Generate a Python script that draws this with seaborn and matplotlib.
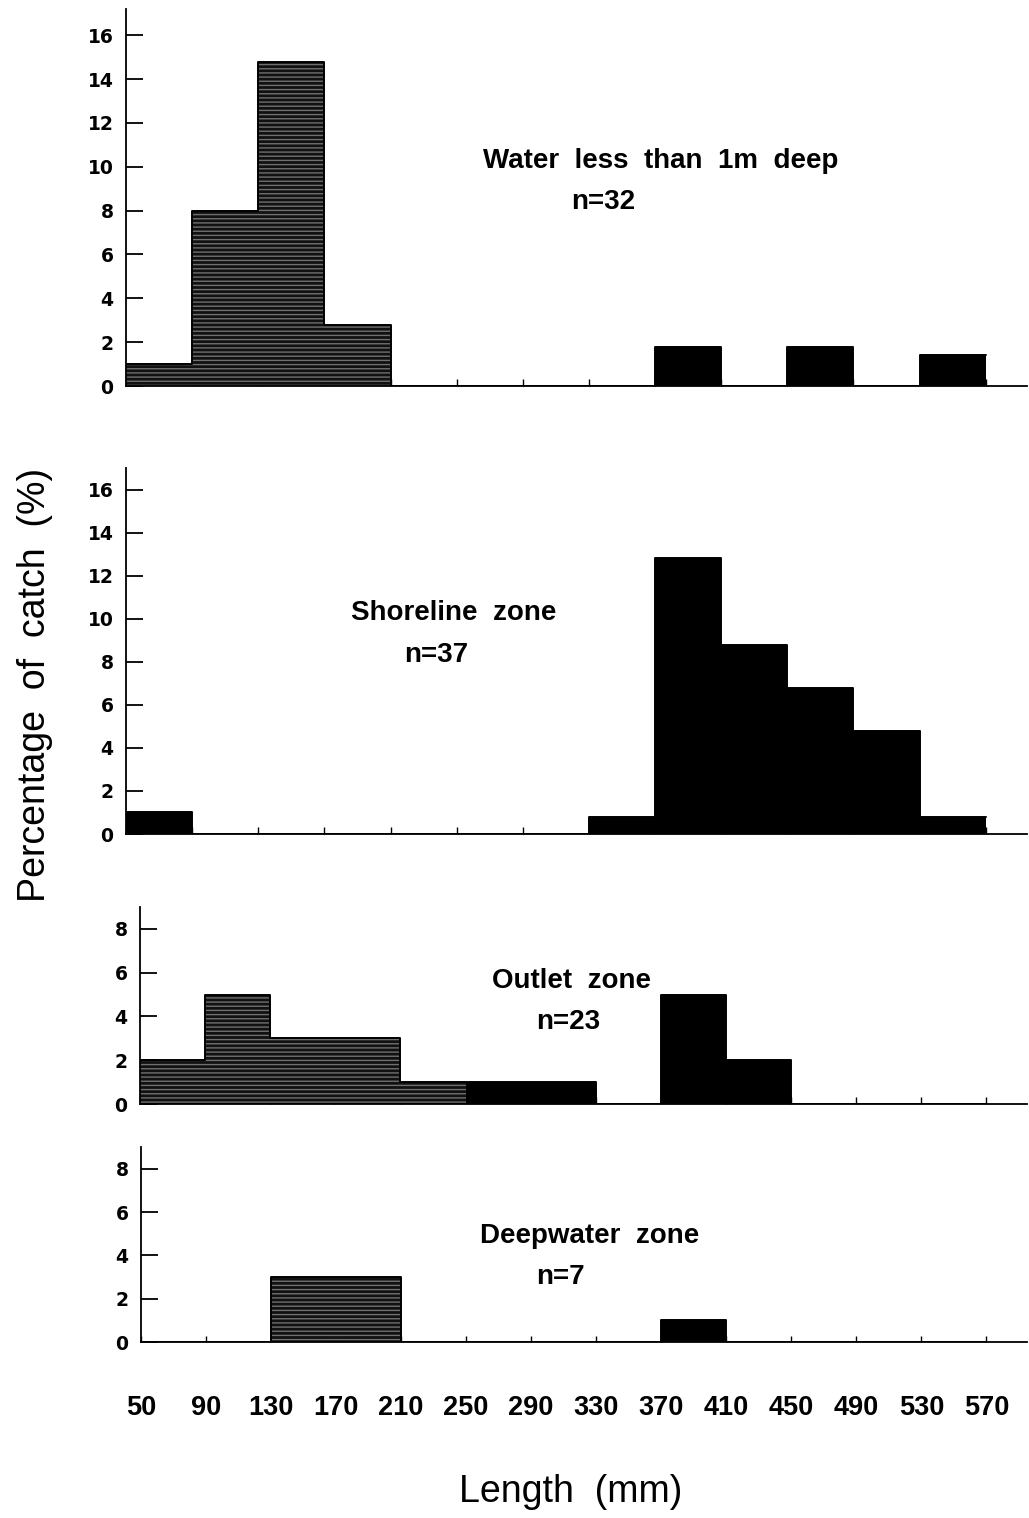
import numpy as np
import matplotlib
matplotlib.use("Agg")
import matplotlib.pyplot as plt
import seaborn as sns

# ---------------- data ----------------
bin_edges = [50, 90, 130, 170, 210, 250, 290, 330, 370, 410, 450, 490, 530, 570]
bin_centers = [70, 110, 150, 190, 230, 270, 310, 350, 390, 430, 470, 510, 550]
tick_labels = ["50", "90", "130", "170", "210", "250", "290", "330",
               "370", "410", "450", "490", "530", "570"]

shallow_pct = [1.0, 8.0, 14.8, 2.8, 0, 0, 0, 0, 1.8, 0, 1.8, 0, 1.4]
shoreline_pct = [1.0, 0, 0, 0, 0, 0, 0, 0.8, 12.8, 8.8, 6.8, 4.8, 0.8]
outlet_pct = [2.0, 5.0, 3.0, 3.0, 1.0, 1.0, 1.0, 0, 5.0, 2.0, 0, 0, 0]
deep_pct = [0, 0, 3.0, 3.0, 0, 0, 0, 0, 1.0, 0, 0, 0, 0]

panel_titles = ["Water  less  than  1m  deep", "Shoreline  zone", "Outlet  zone", "Deepwater  zone"]
panel_n = ["n=32", "n=37", "n=23", "n=7"]

# ---------------- style ----------------
sns.set_theme(style="ticks")
plt.rcParams["font.family"] = ["Liberation Sans", "DejaVu Sans"]
plt.rcParams["hatch.linewidth"] = 1.0
plt.rcParams["text.color"] = "black"
plt.rcParams["axes.labelcolor"] = "black"
plt.rcParams["xtick.color"] = "black"
plt.rcParams["ytick.color"] = "black"

W, H = 1029, 1518
fig = plt.figure(figsize=(W / 100, H / 100), dpi=100)


def px_rect(left, top, right, bottom):
    return [left / W, 1 - bottom / H, (right - left) / W, (bottom - top) / H]


panels = [
    dict(vals=shallow_pct, rect=px_rect(126, 9, 1027, 386), ylim=17.2, yticks=range(0, 17, 2),
         title_xy=(661, 161), n_xy=(603, 202)),
    dict(vals=shoreline_pct, rect=px_rect(126, 468, 1027, 834), ylim=17.0, yticks=range(0, 17, 2),
         title_xy=(454, 613), n_xy=(436, 655)),
    dict(vals=outlet_pct, rect=px_rect(140, 907, 1027, 1104), ylim=9.0, yticks=range(0, 9, 2),
         title_xy=(571, 981), n_xy=(568, 1022)),
    dict(vals=deep_pct, rect=px_rect(141, 1147, 1027, 1342), ylim=9.0, yticks=range(0, 9, 2),
         title_xy=(590, 1236), n_xy=(560, 1277)),
]

for i, pnl in enumerate(panels):
    ax = fig.add_axes(pnl["rect"])
    sns.histplot(x=bin_centers, weights=pnl["vals"], bins=bin_edges, ax=ax,
                 color="black", alpha=1, edgecolor="black", linewidth=0)
    for p in ax.patches:
        if p.get_x() < 250 and i != 1:
            p.set_facecolor("#111111")
            p.set_hatch("----")
            p.set_edgecolor("#707070")
            p.set_linewidth(0)
    sns.histplot(x=bin_centers, weights=pnl["vals"], bins=bin_edges, ax=ax,
                 element="step", fill=False, color="black", linewidth=1.4)

    ax.set_xlim(50, 595)
    ax.set_ylim(0, pnl["ylim"])
    ax.set_xlabel("")
    ax.set_ylabel("")
    sns.despine(ax=ax)
    for s in ["left", "bottom"]:
        ax.spines[s].set_linewidth(1.3)
        ax.spines[s].set_color("black")

    ax.set_yticks(list(pnl["yticks"]))
    ax.set_yticklabels([str(v) for v in pnl["yticks"]], fontsize=13.5,
                       fontweight="bold", family=["DejaVu Sans"])
    ax.tick_params(axis="y", direction="in", length=12, width=1.3, pad=9, colors="black")

    ax.set_xticks(bin_edges)
    if i == 3:
        ax.set_xticklabels(tick_labels, fontsize=19.5, fontweight="bold")
        ax.tick_params(axis="x", direction="in", length=4, width=1.0, pad=38, colors="black")
    else:
        ax.set_xticklabels([])
        ax.tick_params(axis="x", direction="in", length=5, width=1.0, colors="black")

    tx, ty = pnl["title_xy"]
    fig.text(tx / W, 1 - ty / H, panel_titles[i], ha="center", va="center",
             fontsize=20, fontweight="bold", color="black")
    nx, ny = pnl["n_xy"]
    fig.text(nx / W, 1 - ny / H, panel_n[i], ha="center", va="center",
             fontsize=20, fontweight="bold", color="black")

fig.text(35 / W, 1 - 685 / H, "Percentage  of  catch  (%)", rotation=90,
         ha="center", va="center", fontsize=27, color="black")
fig.text(571 / W, 1 - 1492 / H, "Length  (mm)", ha="center", va="center",
         fontsize=27, color="black")

fig.savefig("out.png", dpi=100)
